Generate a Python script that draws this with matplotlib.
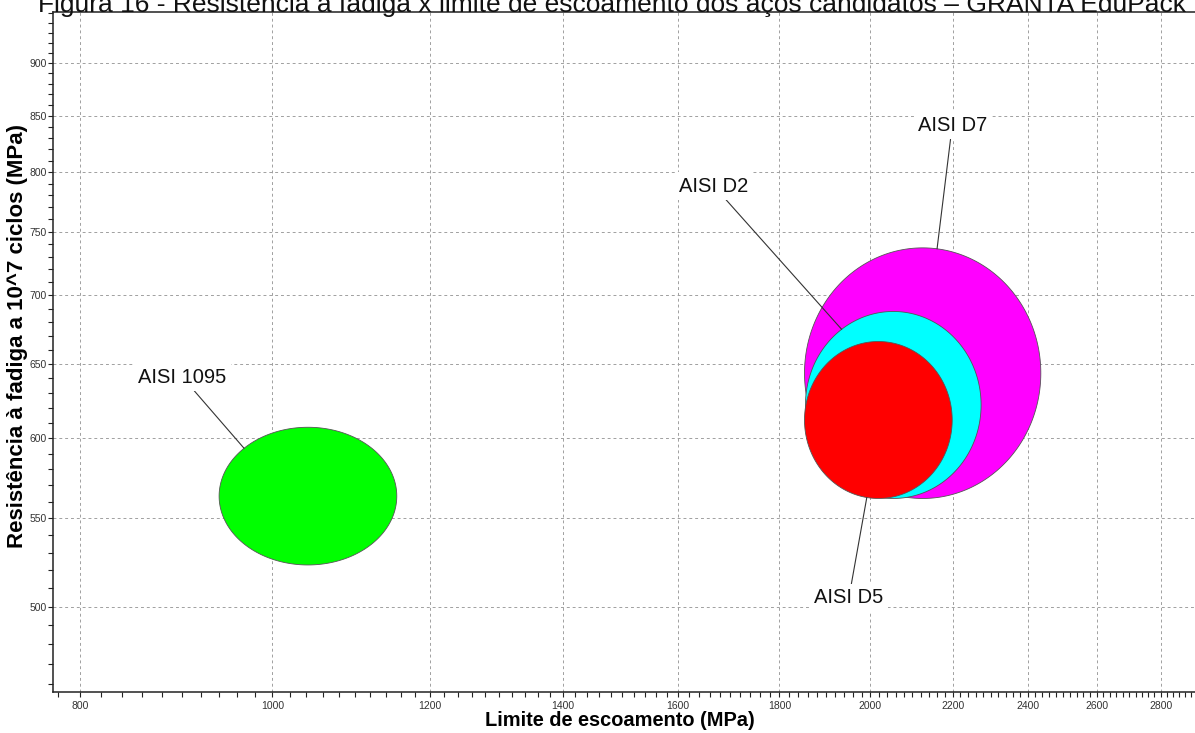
import matplotlib
matplotlib.use("Agg")
import matplotlib.pyplot as plt
import matplotlib.ticker as ticker
import numpy as np

plt.rcParams['font.family'] = ['Liberation Sans', 'DejaVu Sans']

# material property ranges (MPa)
materials = ["AISI 1095", "AISI D7", "AISI D2", "AISI D5"]
yield_min = [940, 1853, 1855, 1853]
yield_max = [1155, 2437, 2274, 2199]
fatigue_min = [523, 562, 562, 562]
fatigue_max = [607, 737, 688, 666]
colors = ["#00ff00", "#ff00ff", "#00ffff", "#ff0000"]

x_ticks = [800, 1000, 1200, 1400, 1600, 1800, 2000, 2200, 2400, 2600, 2800]
y_ticks = [500, 550, 600, 650, 700, 750, 800, 850, 900]

# where each label sits and the angle (deg) on the bubble its leader line hits
label_pos = {
    "AISI 1095": ((901, 640.7), 136),
    "AISI D7": ((2199, 841), 83),
    "AISI D2": ((1668, 788), 126),
    "AISI D5": ((1951, 505), 261),
}

fig = plt.figure(figsize=(11.95, 7.33), dpi=100)
ax = fig.add_axes([53.3 / 1195, 1 - 692.3 / 733, 1 - 53.3 / 1195, (692.3 - 12) / 733])
ax.set_xscale('log')
ax.set_yscale('log')
ax.set_xlim(775.6, 2914)
ax.set_ylim(455.7, 951.2)

ax.xaxis.set_major_locator(ticker.FixedLocator(x_ticks))
ax.yaxis.set_major_locator(ticker.FixedLocator(y_ticks))
ax.xaxis.set_minor_locator(ticker.FixedLocator(np.arange(780, 2920, 20)))
ax.yaxis.set_minor_locator(ticker.FixedLocator(np.arange(460, 951, 10)))
ax.xaxis.set_major_formatter(ticker.FixedFormatter([str(v) for v in x_ticks]))
ax.yaxis.set_major_formatter(ticker.FixedFormatter([str(v) for v in y_ticks]))
ax.xaxis.set_minor_formatter(ticker.NullFormatter())
ax.yaxis.set_minor_formatter(ticker.NullFormatter())

ax.tick_params(which='both', direction='out', length=3.5, width=0.8, colors='#222222',
               labelsize=7.5, labelcolor='#333333', pad=1)
ax.tick_params(axis='x', pad=3)
ax.grid(True, which='major', color='#a0a0a0', linestyle=(0, (3, 3)), linewidth=0.7)
ax.set_axisbelow(True)
for side in ['left', 'bottom', 'top']:
    ax.spines[side].set_linewidth(1.1)
    ax.spines[side].set_color('#222222')
ax.spines['right'].set_visible(False)

t = np.linspace(0, 2 * np.pi, 400)
bubbles = {}
for name, x0, x1, y0, y1, c in zip(materials, yield_min, yield_max,
                                    fatigue_min, fatigue_max, colors):
    cx, rx = (np.log(x0) + np.log(x1)) / 2, (np.log(x1) - np.log(x0)) / 2
    cy, ry = (np.log(y0) + np.log(y1)) / 2, (np.log(y1) - np.log(y0)) / 2
    bubbles[name] = (cx, rx, cy, ry)
    ax.fill(np.exp(cx + rx * np.cos(t)), np.exp(cy + ry * np.sin(t)),
            facecolor=c, edgecolor='#555555', linewidth=0.6, zorder=3)

for name in materials:
    (tx, ty), ang = label_pos[name]
    cx, rx, cy, ry = bubbles[name]
    a = np.radians(ang)
    px, py = np.exp(cx + rx * np.cos(a)), np.exp(cy + ry * np.sin(a))
    ax.annotate(name, xy=(px, py), xytext=(tx, ty), ha='center', va='center',
                fontsize=14.5, color='#111111', zorder=5,
                bbox=dict(boxstyle='square,pad=0.2', fc='white', ec='none'),
                arrowprops=dict(arrowstyle='-', color='#333333', lw=0.8,
                                shrinkA=0, shrinkB=0))

fig.text(620 / 1195, 1 - 720 / 733, "Limite de escoamento (MPa)", ha='center', va='center',
         fontsize=14.4, fontweight='bold')
fig.text(18 / 1195, 1 - 336 / 733, "Resistência à fadiga a 10^7 ciclos (MPa)", ha='center',
         va='center', rotation=90, fontsize=16, fontweight='bold')
fig.text(612 / 1195, 1 - 12 / 733,
         "Figura 16 - Resistência à fadiga x limite de escoamento dos aços candidatos – GRANTA EduPack",
         ha='center', va='baseline', fontsize=19, color='#111111')

fig.savefig("out.png", dpi=100)
